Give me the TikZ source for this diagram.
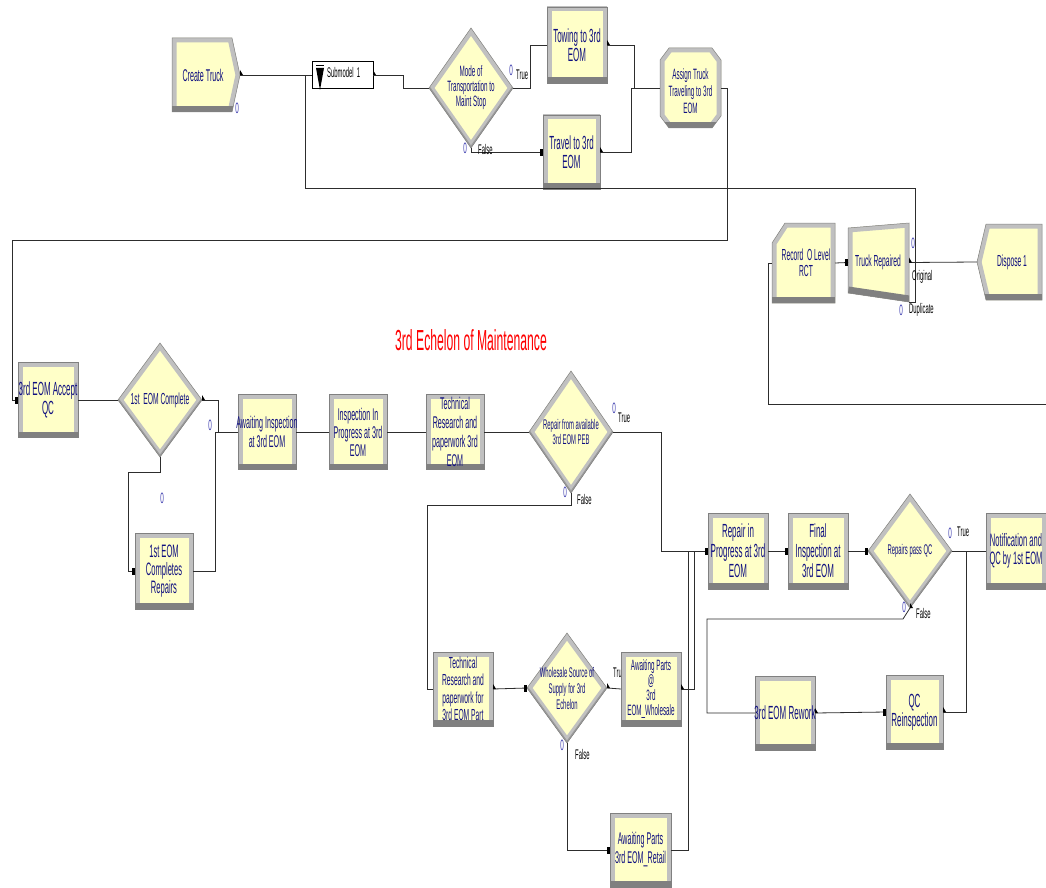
\documentclass[tikz,border=0pt]{standalone}
\usepackage{fontspec}
\newfontfamily\arn[FakeStretch=0.42]{Liberation Sans}
\definecolor{yel}{RGB}{255,255,200}
\definecolor{bevl}{RGB}{192,192,192}
\definecolor{bevd}{RGB}{128,128,128}
\definecolor{navy}{RGB}{16,16,128}
\definecolor{zblue}{RGB}{60,60,175}
\definecolor{wire}{RGB}{45,45,45}
\tikzset{
 frame/.style={rectangle, inner sep=0pt, outer sep=0pt, draw=none},
 mtext/.style={align=center, text=navy, inner sep=0pt, font=\arn},
 conn/.style={draw=wire, line width=0.8pt},
 zero/.style={text=zblue, inner sep=0pt, font=\arn\fontsize{15}{15}\selectfont},
 lab/.style={text=black, inner sep=0pt, anchor=west, font=\arn\fontsize{14}{14}\selectfont},
}
\newcommand\polyshape[3]{%
 \begin{scope}\clip #2; \fill[yel] #2; \draw[bevl,line width=9pt] #2; #3 \end{scope}
 \draw[bevd,line width=0.5pt] #2;}
\newcommand\procbox[7][\fontsize{19}{19}\selectfont]{%
 \node[frame,minimum width=#5pt,minimum height=#6pt] (#2) at (#3,#4) {};
 \polyshape{#2}{(#2.south west) rectangle (#2.north east)}{\fill[bevd] (#2.south west) rectangle ([yshift=6pt]#2.south east);}
 \node[mtext,font=\arn#1] (#2t) at (#2.center) {#7};
}
\newcommand\decbox[7][\fontsize{15}{15}\selectfont]{%
 \node[frame,minimum width=#5pt,minimum height=#6pt] (#2) at (#3,#4) {};
 \polyshape{#2}{(#2.north) -- (#2.east) -- (#2.south) -- (#2.west) -- cycle}{\draw[bevd!80,line width=3pt] (#2.east) -- (#2.south) -- (#2.west);}
 \node[mtext,font=\arn#1] (#2t) at (#2.center) {#7};
}
\newcommand\entrysq[1]{\fill[black] ([shift={(-3pt,-3.5pt)}]#1) rectangle ([shift={(0pt,3.5pt)}]#1);}
\newcommand\exitm[1]{\fill[black] (#1) -- ([shift={(3pt,0pt)}]#1) -- ([shift={(0pt,5pt)}]#1) -- cycle;}
\begin{document}
\begin{tikzpicture}[x=1pt,y=-1pt]
\useasboundingbox (0,0) rectangle (1046,888);
\fill[white] (0,0) rectangle (1046,888);

% ---------- labels hidden behind boxes ----------
\node[lab] (l7) at (613,673) {True};

% ---------- top row ----------
\node[frame,minimum width=68pt,minimum height=74pt] (create) at (206,75) {};
\polyshape{create}{(create.north west) -- ([xshift=-8pt]create.north east) -- (create.east) -- ([xshift=-8pt]create.south east) -- (create.south west) -- cycle}{\fill[bevd] (create.south west) rectangle ([yshift=6pt]create.south east);}
\node[mtext,font=\arn\fontsize{17}{17}\selectfont] (createt) at (203,75) {Create Truck};

\node[frame,draw=black,line width=0.6pt,fill=white,minimum width=61pt,minimum height=27pt] (sub) at (342.5,75) {};
\fill[black] (316,68) -- (324,68) -- (320,90) -- cycle;
\draw[black,line width=1pt] (316,66) -- (324,66);
\node[lab,font=\arn\fontsize{14}{14}\selectfont] (subt) at (327,72) {Submodel\ \ 1};

\decbox[\fontsize{15}{15}\selectfont]{mode}{471}{88}{84}{120}{Mode of\\Transportation to\\Maint Stop}
\procbox{towing}{577}{45}{60}{76}{Towing to 3rd\\EOM}
\procbox{travel}{571.5}{152}{57}{74}{Travel to 3rd\\EOM}

\node[frame,minimum width=61pt,minimum height=80pt] (assign) at (690.5,88) {};
\polyshape{assign}{([xshift=9pt]assign.north west) -- ([xshift=-9pt]assign.north east) -- ([yshift=-12pt]assign.north east) -- ([yshift=12pt]assign.south east) -- ([xshift=-9pt]assign.south east) -- ([xshift=9pt]assign.south west) -- ([yshift=12pt]assign.south west) -- ([yshift=-12pt]assign.north west) -- cycle}{\fill[bevd] (assign.south west) rectangle ([yshift=6pt]assign.south east);}
\node[mtext,font=\arn\fontsize{15}{17}\selectfont] (assignt) at (690.5,91) {Assign Truck\\Traveling to 3rd\\EOM};

% ---------- right top ----------
\node[frame,minimum width=63pt,minimum height=80pt] (record) at (803.5,263) {};
\polyshape{record}{([yshift=-20pt]record.north west) -- ([xshift=13pt]record.north west) -- (record.north east) -- (record.south east) -- (record.south west) -- cycle}{\fill[bevd] (record.south west) rectangle ([yshift=6pt]record.south east);}
\node[mtext,font=\arn\fontsize{16}{16}\selectfont] (recordt) at (806,263) {Record\ \ O Level\\RCT};

\node[frame,minimum width=61pt,minimum height=79pt] (rep) at (878.5,262.5) {};
\polyshape{rep}{([yshift=-5pt]rep.north west) -- (rep.north east) -- (rep.south east) -- ([yshift=9pt]rep.south west) -- cycle}{\draw[bevd,line width=13pt] ([yshift=9pt]rep.south west) -- (rep.south east);}
\node[mtext,font=\arn\fontsize{16}{16}\selectfont] (rept) at (878,262) {Truck Repaired};

\node[frame,minimum width=65pt,minimum height=76pt] (dispose) at (1009.5,262) {};
\polyshape{dispose}{(dispose.west) -- ([xshift=9pt]dispose.north west) -- (dispose.north east) -- (dispose.south east) -- ([xshift=9pt]dispose.south west) -- cycle}{\fill[bevd] (dispose.south west) rectangle ([yshift=6pt]dispose.south east);}
\node[mtext,font=\arn\fontsize{16}{16}\selectfont] (disposet) at (1012,262) {Dispose 1};

% ---------- middle row ----------
\procbox[\fontsize{19}{19}\selectfont]{accept}{48}{400}{60}{75}{3rd EOM Accept\\QC}
\decbox[\fontsize{16}{16}\selectfont]{first}{160}{400}{84}{114}{1st\ \ EOM Complete}
\procbox[\fontsize{18}{18}\selectfont]{comp}{164}{571}{58}{76}{1st EOM\\Completes\\Repairs}
\procbox[\fontsize{17}{19}\selectfont]{await}{267}{432}{58}{75}{Awaiting Inspection\\at 3rd EOM}
\procbox[\fontsize{17}{18}\selectfont]{insp}{358}{432}{58}{75}{Inspection In\\Progress at 3rd\\EOM}
\procbox[\fontsize{17}{19}\selectfont]{tech}{455}{432}{58}{75}{Technical\\Research and\\paperwork 3rd\\EOM}
\decbox[\fontsize{14}{15}\selectfont]{rdec}{571}{432}{84}{122}{Repair from available\\3rd EOM PEB}

\node[mtext,font=\arn\fontsize{29}{29}\selectfont,text=red] (title) at (471,340) {3rd Echelon of Maintenance};

% ---------- lower left ----------
\procbox[\fontsize{16}{17.5}\selectfont]{techp}{463}{689}{60}{74}{Technical\\Research and\\paperwork for\\3rd EOM Part}
\decbox[\fontsize{14}{16}\selectfont]{wdec}{567}{688}{80}{110}{Wholesale Source of\\Supply for 3rd\\Echelon}
\procbox[\fontsize{15}{15}\selectfont]{aw}{651}{689}{60}{74}{Awaiting Parts\\@\\3rd\\EOM\_Wholesale}
\procbox[\fontsize{17}{19}\selectfont]{retail}{640.5}{850}{61}{74}{Awaiting Parts\\3rd EOM\_Retail}

% ---------- lower right ----------
\procbox[\fontsize{19}{20}\selectfont]{rip}{738}{551}{60}{76}{Repair in\\Progress at 3rd\\EOM}
\procbox[\fontsize{19}{20}\selectfont]{fin}{818}{551}{60}{76}{Final\\Inspection at\\3rd EOM}
\decbox[\fontsize{14}{14}\selectfont]{qcdec}{910}{551}{84}{114}{Repairs pass QC}
\procbox[\fontsize{18}{18}\selectfont]{notif}{1016}{551}{60}{76}{Notification and\\QC by 1st EOM}
\procbox{rework}{785}{713}{60}{74}{3rd EOM Rework}
\procbox[\fontsize{19}{19}\selectfont]{qcr}{914.5}{712}{57}{74}{QC\\Reinspection}

% ---------- connectors ----------
\coordinate (j1) at (305,75);
\coordinate (offr) at (1046,404);
\draw[conn] (create.east) -- (sub.west);
\draw[conn] (rep.south east) -- (915,302) -- (915,188) -- (305,188) -- (j1);
\draw[conn] (sub.east) -- (403,75) -- (403,88) -- (mode.west);
\draw[conn] (mode.east) -- (530,88) |- (towing.west);
\draw[conn] (mode.south) |- (travel.west);
\draw[conn] (towing.east) -- (634,45) -- (634,88) -- (assign.west);
\draw[conn] (travel.east) -- (631,152) -- (631,88) -- (assign.west);
\draw[conn] (assign.east) -- (727,88) -- (727,240) -- (12,240) |- (accept.west);
\draw[conn] (record.east) -- (rep.west);
\draw[conn] (rep.east) -- (dispose.west);
\draw[conn] (offr) -- (768,404) |- (record.west);
\draw[conn] (accept.east) -- (first.west);
\draw[conn] (first.east) -- (218,400) |- (await.west);
\draw[conn] (comp.east) -- (215,571) |- (await.west);
\draw[conn] (first.south) -- (160,472) -- (128,472) |- (comp.west);
\draw[conn] (await.east) -- (insp.west);
\draw[conn] (insp.east) -- (tech.west);
\draw[conn] (tech.east) -- (rdec.west);
\draw[conn] (rdec.east) -- (661,432) |- (rip.west);
\draw[conn] (rdec.south) -- (571,505) -- (427,505) |- (techp.west);
\draw[conn] (techp.east) -- (wdec.west);
\draw[conn] (wdec.east) -- (aw.west);
\draw[conn] (aw.east) -- (694,689) |- (rip.west);
\draw[conn] (wdec.south) |- (retail.west);
\draw[conn] (retail.east) -- (688,850) |- (rip.west);
\draw[conn] (rip.east) -- (fin.west);
\draw[conn] (fin.east) -- (qcdec.west);
\draw[conn] (qcdec.east) -- (notif.west);
\draw[conn] (qcdec.south) -- (903,619) -- (707,619) |- (rework.west);
\draw[conn] (rework.east) -- (qcr.west);
\draw[conn] (qcr.east) -- (966,712) |- (notif.west);

% ---------- entry / exit marks ----------
\entrysq{travel.west}
\entrysq{rep.west}
\entrysq{accept.west}
\entrysq{comp.west}
\entrysq{wdec.west}
\entrysq{retail.west}
\entrysq{rip.west}
\entrysq{fin.west}
\entrysq{qcdec.west}
\entrysq{qcr.west}
\exitm{create.east}
\exitm{sub.east}
\exitm{towing.east}
\exitm{travel.east}
\exitm{rep.east}
\exitm{first.east}
\exitm{techp.east}
\exitm{wdec.east}
\exitm{aw.east}
\exitm{rework.east}
\exitm{qcr.east}
\exitm{qcdec.south}

% ---------- counters and exit labels ----------
\node[zero] (z1) at (237,108) {0};
\node[zero] (z2) at (511,70) {0};
\node[zero] (z3) at (465,148) {0};
\node[zero] (z4) at (913,243) {0};
\node[zero] (z5) at (901,310) {0};
\node[zero] (z6) at (210,425) {0};
\node[zero] (z7) at (162,498) {0};
\node[zero] (z8) at (614,408) {0};
\node[zero] (z9) at (565,492) {0};
\node[zero] (z10) at (562,745) {0};
\node[zero] (z11) at (950,533) {0};
\node[zero] (z12) at (904,607) {0};
\node[lab] (l1) at (516,75) {True};
\node[lab] (l2) at (478,149) {False};
\node[lab] (l3) at (912,277) {Original};
\node[lab] (l4) at (909,310) {Duplicate};
\node[lab] (l5) at (618,418) {True};
\node[lab] (l6) at (577,499) {False};
\node[lab] (l8) at (575,754) {False};
\node[lab] (l9) at (957,532) {True};
\node[lab] (l10) at (916,613) {False};
\end{tikzpicture}
\end{document}
